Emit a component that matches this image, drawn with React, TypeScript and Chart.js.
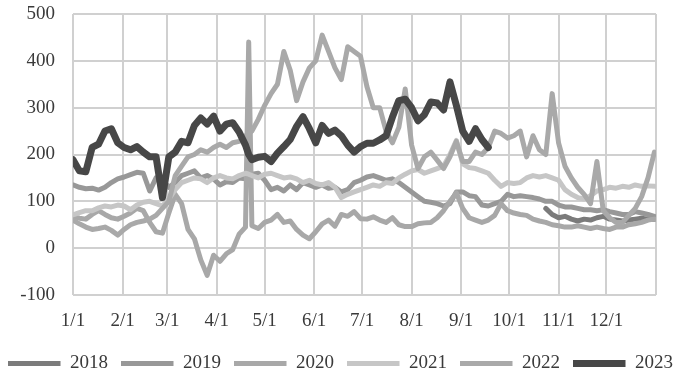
import React, { useEffect, useRef } from 'react';
import { Chart, registerables } from 'chart.js';

Chart.register(...registerables);

// Day-of-year positions (0 = Jan 1)
const days = [
  0, 4, 8, 12, 16, 20, 24, 28, 32, 36,
  40, 44, 48, 52, 56, 60, 64, 68, 72, 76,
  80, 84, 88, 92, 96, 100, 104, 108, 110, 112,
  116, 120, 124, 128, 132, 136, 140, 144, 148, 152,
  156, 160, 164, 168, 172, 176, 180, 184, 188, 192,
  196, 200, 204, 208, 212, 216, 220, 224, 228, 232,
  236, 240, 244, 248, 252, 256, 260, 264, 268, 272,
  276, 280, 284, 288, 292, 296, 300, 304, 308, 312,
  316, 320, 324, 328, 332, 336, 340, 344, 348, 352,
  356, 360, 364,
];
const days2018 = [296, 300, 304, 308, 312, 316, 320, 324, 328, 332, 336, 340, 344, 348, 352, 356, 360, 364];

const monthDays = [0, 31, 59, 90, 120, 151, 181, 212, 243, 273, 304, 334, 365];
const monthLabels = ['1/1', '2/1', '3/1', '4/1', '5/1', '6/1', '7/1', '8/1', '9/1', '10/1', '11/1', '12/1', ''];

const years = ['2018', '2019', '2020', '2021', '2022', '2023'];

const v2018 = [85, 72, 65, 68, 62, 58, 62, 60, 65, 68, 62, 60, 58, 60, 62, 64, 62, 62];

const v2019 = [
  135, 130, 127, 128, 124, 130, 140, 148, 152, 157,
  162, 160, 122, 150, 145, 130, 140, 155, 160, 165,
  150, 155, 148, 135, 142, 140, 150, 148, 152, 158,
  160, 145, 125, 130, 122, 135, 125, 140, 135, 130,
  135, 128, 130, 120, 125, 140, 145, 152, 155, 150,
  145, 148, 140, 130, 120, 110, 100, 98, 95, 90,
  95, 120, 120, 112, 110, 92, 90, 95, 100, 115,
  110, 112, 110, 108, 105, 100, 100, 92, 88, 88,
  85, 82, 82, 80, 82, 78, 75, 72, 72, 78,
  75, 72, 68,
];

const v2020 = [
  68, 64, 62, 72, 80, 72, 65, 62, 68, 75,
  85, 80, 55, 35, 32, 75, 115, 95, 40, 20,
  -25, -58, -15, -28, -12, -3, 30, 45, 440, 48,
  42, 55, 60, 72, 55, 58, 40, 28, 20, 35,
  52, 60, 47, 72, 68, 78, 63, 62, 67, 60,
  55, 65, 50, 46, 46, 52, 54, 55, 65, 80,
  100, 118, 85, 65, 60, 55, 60, 70, 95, 80,
  75, 72, 70, 62, 58, 55, 50, 48, 45, 45,
  48, 45, 42, 45, 42, 40, 45, 45, 50, 52,
  55, 60, 62,
];

const v2021 = [
  71, 76, 80, 80, 86, 90, 88, 92, 90, 82,
  92, 98, 100, 95, 90, 105, 125, 140, 145, 150,
  148, 140, 150, 155, 150, 148, 155, 160, 158, 155,
  150, 158, 160, 155, 150, 152, 148, 140, 145, 138,
  135, 140, 130, 108, 115, 120, 125, 130, 135, 132,
  140, 138, 150, 158, 165, 168, 160, 165, 170, 175,
  200, 230, 180, 172, 170, 165, 160, 145, 132, 140,
  138, 140, 150, 155, 152, 155, 150, 145, 125, 115,
  108, 105, 112, 122, 125, 130, 128, 132, 130, 135,
  132, 133, 132,
];

const v2022 = [
  60, 52, 45, 40, 42, 45, 38, 28, 40, 50,
  55, 58, 62, 70, 85, 100, 155, 175, 195, 200,
  210, 205, 215, 222, 215, 225, 228, 240, 245, 250,
  275, 305, 330, 350, 420, 380, 315, 355, 385, 400,
  455, 420, 385, 360, 430, 420, 410, 345, 300, 300,
  250, 225, 258, 340, 220, 170, 195, 205, 188, 170,
  195, 228, 185, 185, 205, 200, 215, 250, 245, 235,
  240, 250, 195, 240, 210, 200, 330, 225, 175, 150,
  130, 115, 95, 185, 80, 65, 55, 55, 70, 85,
  110, 150, 205,
];

const v2023 = [
  189, 165, 163, 215, 222, 250, 255, 225, 215, 210,
  217, 205, 195, 195, 108, 195, 205, 228, 225, 262,
  278, 265, 282, 250, 265, 268, 248, 220, 200, 189,
  194, 196, 185, 203, 217, 232, 260, 281, 255, 225,
  262, 245, 252, 240, 220, 205, 217, 224, 224, 231,
  240, 280, 315, 318, 300, 272, 285, 312, 310, 295,
  355, 305, 250, 228, 255, 232, 215,
];

const colors = ['#7b7b7b', '#989898', '#a8a8a8', '#c6c6c6', '#a9a9a9', '#474747'];
const widths = [5, 5, 5, 5, 5, 7];

function pts(xs: number[], ys: number[]) {
  return ys.map((y, i) => ({ x: xs[i], y }));
}

export default function App() {
  const ref = useRef<HTMLCanvasElement | null>(null);

  useEffect(() => {
    if (!ref.current) return;
    const seriesData = [
      pts(days2018, v2018),
      pts(days, v2019),
      pts(days, v2020),
      pts(days, v2021),
      pts(days, v2022),
      pts(days, v2023),
    ];
    const font = { family: "'Liberation Serif', 'Times New Roman', serif", size: 19 };
    const textColor = '#3a3a3a';
    const chart = new Chart(ref.current, {
      type: 'line',
      data: {
        datasets: years.map((yr, i) => ({
          label: yr,
          data: seriesData[i],
          borderColor: colors[i],
          backgroundColor: colors[i],
          borderWidth: widths[i],
          borderCapStyle: 'round',
          borderJoinStyle: 'round',
          pointRadius: 0,
          pointHoverRadius: 0,
          tension: 0,
          fill: false,
          order: 5 - i,
        })),
      },
      options: {
        responsive: false,
        animation: false,
        devicePixelRatio: 1,
        layout: { padding: { top: 14, left: -6, right: -6, bottom: 1 } },
        plugins: {
          tooltip: { enabled: false },
          legend: {
            position: 'bottom',
            labels: {
              usePointStyle: true,
              pointStyle: 'line',
              pointStyleWidth: 52.5,
              padding: 13,
              color: textColor,
              font,
              sort: (a: any, b: any) => a.datasetIndex - b.datasetIndex,
            },
          },
        },
        scales: {
          x: {
            type: 'linear',
            min: 0,
            max: 365,
            afterBuildTicks: (scale: any) => {
              scale.ticks = monthDays.map((v) => ({ value: v }));
            },
            afterFit: (scale: any) => {
              scale.height = 46;
            },
            ticks: {
              autoSkip: false,
              maxRotation: 0,
              padding: 15,
              color: textColor,
              font,
              callback: (value: any) => {
                const idx = monthDays.indexOf(Number(value));
                return idx >= 0 ? monthLabels[idx] : '';
              },
            },
            grid: { color: '#d0d0d0', lineWidth: 2, drawTicks: false },
            border: { display: false },
          },
          y: {
            min: -100,
            max: 500,
            position: 'left',
            afterFit: (scale: any) => {
              scale.width = 79;
            },
            ticks: { stepSize: 100, padding: 0, color: textColor, font },
            grid: { color: '#d0d0d0', lineWidth: 2, drawTicks: true, tickLength: 18, tickColor: 'rgba(0,0,0,0)' },
            border: { display: false },
          },
          yR: {
            type: 'linear',
            position: 'right',
            min: 0,
            max: 1,
            afterFit: (scale: any) => {
              scale.width = 31;
            },
            ticks: { display: false },
            grid: { display: false, drawTicks: false },
            border: { display: false },
          },
        },
      } as any,
    });
    return () => chart.destroy();
  }, []);

  return (
    <div style={{ position: 'absolute', left: 0, top: 0, width: 681, height: 384, background: '#fff' }}>
      <canvas ref={ref} width={681} height={384} />
    </div>
  );
}
